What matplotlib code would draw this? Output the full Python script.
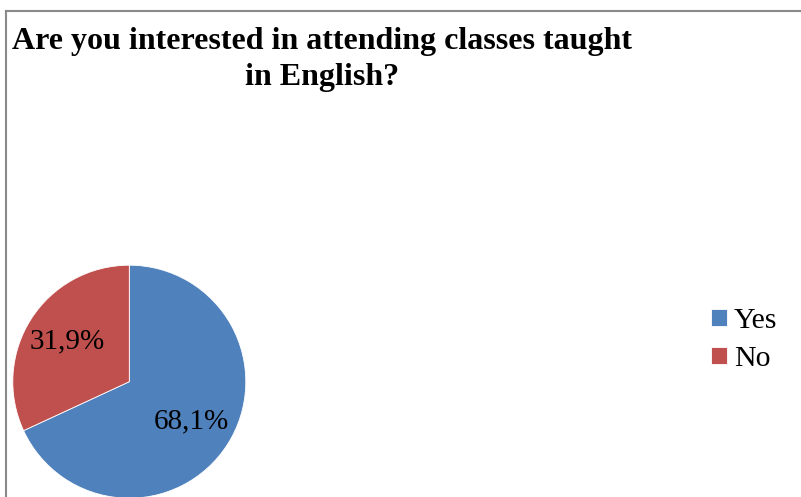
import matplotlib
matplotlib.use("Agg")
import matplotlib.pyplot as plt
from matplotlib.lines import Line2D

categories = ["Yes", "No"]
values = [68.1, 31.9]
colors = ["#4F81BD", "#C0504D"]
title = "Are you interested in attending classes taught\nin English?"

W, H = 801, 497
fig = plt.figure(figsize=(W / 100, H / 100), dpi=100)
fig.patch.set_facecolor("white")
ax = fig.add_axes([0, 0, 1, 1])

def fmt(p):
    return f"{p:.1f}%".replace(".", ",")

wedges, texts, autotexts = ax.pie(
    values, colors=colors, startangle=90, counterclock=False,
    center=(129.3, H - 381.7), radius=116.5, frame=True,
    autopct=fmt, pctdistance=0.635,
    wedgeprops=dict(edgecolor="white", linewidth=0.6),
    textprops=dict(family="Liberation Serif", fontsize=21, color="black"),
)
ax.set_xlim(0, W)
ax.set_ylim(0, H)
ax.set_aspect("equal")
ax.set_axis_off()

# border (left and top visible)
fig.add_artist(Line2D([5.5 / W, 5.5 / W], [0, 1 - 10.5 / H], color="#8a8a8a", lw=1.5))
fig.add_artist(Line2D([5.5 / W, 1], [1 - 10.5 / H, 1 - 10.5 / H], color="#8a8a8a", lw=1.5))

fig.text(322.5 / W, 1 - 27 / H, title, ha="center", va="top", family="Liberation Serif",
         fontweight="bold", fontsize=23, linespacing=1.3)

leg = fig.legend(wedges, categories, loc="upper left", bbox_to_anchor=(711 / W, 1 - 308 / H),
                 frameon=False, prop=dict(family="Liberation Serif", size=21.5),
                 handlelength=0.52, handleheight=0.52, handletextpad=0.25, labelspacing=0.4,
                 borderpad=0, borderaxespad=0)

fig.savefig("out.png", dpi=100)
